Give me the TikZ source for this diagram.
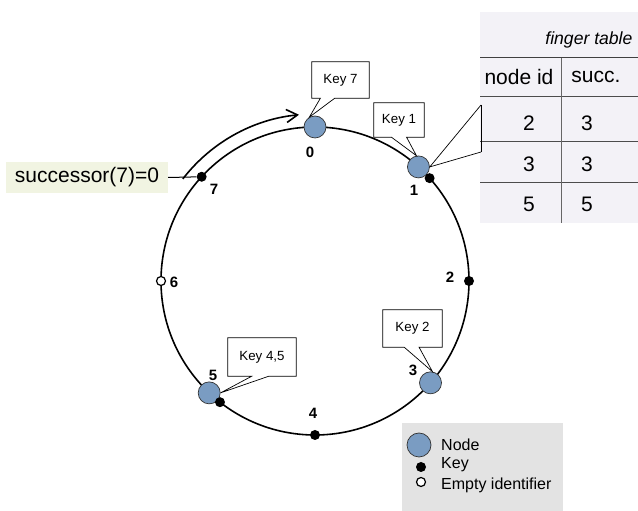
\documentclass[tikz,border=0pt]{standalone}
\usepackage{fontspec}
\setmainfont{Liberation Sans}
\usetikzlibrary{arrows.meta,calc}

\definecolor{peerblue}{RGB}{122,156,194}
\definecolor{succbg}{RGB}{241,244,226}
\definecolor{fingerbg}{RGB}{243,242,247}
\definecolor{legendbg}{RGB}{227,227,227}

\begin{document}
\begin{tikzpicture}[
    x=1pt,
    y=1pt,
    font=\fontsize{13.3}{15}\selectfont,
    ring/.style={line width=1.6pt},
    peer/.style={circle,draw=black!80,line width=0.7pt,fill=peerblue,
        minimum size=22pt,inner sep=0pt},
    keydot/.style={circle,fill=black,minimum size=10pt,inner sep=0pt},
    emptyid/.style={circle,draw=black,line width=1.2pt,fill=white,
        minimum size=9pt,inner sep=0pt},
    idlabel/.style={font=\fontsize{15}{17}\selectfont\bfseries},
    keybox/.style={minimum height=36pt,inner sep=0pt},
    callout/.style={line width=0.7pt},
    bigtext/.style={font=\fontsize{21}{24}\selectfont},
    legendtext/.style={font=\fontsize{16}{18}\selectfont,anchor=west,inner sep=0pt},
    tablerule/.style={line width=1pt,black!75}
]
    \useasboundingbox (0,0) rectangle (638,511);

    % identifier ring
    \coordinate (c) at (315,230);
    \draw[ring] (c) circle[radius=154];

    \node[peer] (n0) at ($(c)+(90:154)$) {};
    \node[peer] (n1) at ($(c)+(47.8:154)$) {};
    \node[peer] (n3) at ($(c)+(-41.4:154)$) {};
    \node[peer] (n5) at ($(c)+(226.6:154)$) {};
    \node[keydot] (k1) at ($(c)+(41.9:154)$) {};
    \node[keydot] (k2) at ($(c)+(0:154)$) {};
    \node[keydot] (k4) at ($(c)+(-90:154)$) {};
    \node[keydot] (k5) at ($(c)+(231.9:154)$) {};
    \node[keydot] (k7) at ($(c)+(137.4:154)$) {};
    \node[emptyid] (e6) at ($(c)+(180:154)$) {};

    \node[idlabel] (l0) at (310,359) {0};
    \node[idlabel] (l1) at (414,321) {1};
    \node[idlabel] (l2) at (450,234) {2};
    \node[idlabel] (l3) at (413,141) {3};
    \node[idlabel] (l4) at (313,98) {4};
    \node[idlabel] (l5) at (213,136) {5};
    \node[idlabel] (l6) at (174,229) {6};
    \node[idlabel] (l7) at (214,322) {7};

    % key callouts
    \node[keybox,minimum width=57pt] (c7) at (340.5,431) {Key 7};
    \draw[callout] ($(c7.south west)!0.15!(c7.south east)$) -- (n0.120)
        -- ($(c7.south west)!0.4!(c7.south east)$) -- (c7.south east)
        -- (c7.north east) -- (c7.north west) -- (c7.south west) -- cycle;
    \node[keybox,minimum width=50pt,minimum height=34pt] (c1) at (399,391) {Key 1};
    \draw[callout] ($(c1.south west)!0.35!(c1.south east)$) -- (n1.100)
        -- ($(c1.south west)!0.65!(c1.south east)$) -- (c1.south east)
        -- (c1.north east) -- (c1.north west) -- (c1.south west) -- cycle;
    \node[keybox,minimum width=59pt,minimum height=37pt] (c2) at (412.5,182.5) {Key 2};
    \draw[callout] ($(c2.south west)!0.36!(c2.south east)$) -- (n3.80)
        -- ($(c2.south west)!0.61!(c2.south east)$) -- (c2.south east)
        -- (c2.north east) -- (c2.north west) -- (c2.south west) -- cycle;
    \node[keybox,minimum width=68pt,minimum height=38pt] (c45) at (262,154) {Key 4,5};
    \draw[callout] ($(c45.south west)!0.35!(c45.south east)$) -- (n5.east)
        -- ($(c45.south west)!0.6!(c45.south east)$) -- (c45.south east)
        -- (c45.north east) -- (c45.north west) -- (c45.south west) -- cycle;

    % finger table of node 1
    \fill[fingerbg] (480,288) rectangle (638,499);
    \draw[tablerule] (480,453) -- (638,453);
    \foreach \y in {414,369,328}
        \draw[tablerule,black!70] (480,\y) -- (638,\y);
    \draw[line width=1pt,black!60] (561,453) -- (561,288);
    \node[font=\fontsize{17.6}{20}\selectfont\itshape,anchor=east] (ftitle)
        at (636,471) {finger table};
    \node[bigtext] (hid) at (519,434) {node id};
    \node[bigtext] (hsucc) at (596,434) {succ.};
    \foreach \id/\succ/\y [count=\i] in {2/3/388,3/3/347,5/5/307}{
        \node[bigtext] (id\i) at (529,\y) {\id};
        \node[bigtext] (sc\i) at (587,\y) {\succ};
    }
    \coordinate (ft1) at (481,406);
    \coordinate (ft2) at (481,359);
    \draw[tablerule,black] (ft1) -- (ft2);
    \draw[callout] (ft1) -- (n1.east) -- (ft2);

    % lookup of key 7
    \node[bigtext,fill=succbg,minimum width=162pt,minimum height=31pt,inner sep=0pt]
        (succ) at (87,333.5) {successor(7)=0};
    \draw[line width=1pt] (succ.east) -- (k7);
    \draw[ring,-{Straight Barb[length=11pt,width=13pt]}] ($(c)+(142.3:167)$)
        arc[start angle=142.3,end angle=95.5,radius=167];

    % legend
    \fill[legendbg] (402,0) rectangle (563,88);
    \node[peer,minimum size=24pt] (lgpeer) at (419,66) {};
    \node[legendtext] (lgpeertxt) at (441,66) {Node};
    \node[keydot] (lgkey) at (421,44) {};
    \node[legendtext] (lgkeytxt) at (441,46) {Key};
    \node[emptyid] (lgempty) at (421,29) {};
    \node[legendtext] (lgemptytxt) at (441,26) {Empty identifier};
\end{tikzpicture}
\end{document}
